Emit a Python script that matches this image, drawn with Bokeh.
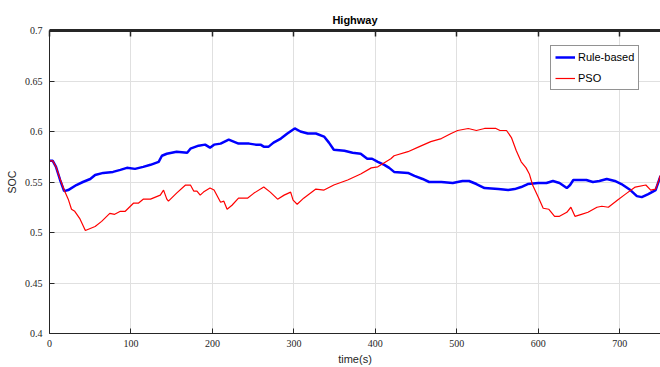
from bokeh.plotting import figure
from bokeh.models import (Range1d, FixedTicker, CustomJSTickFormatter, LinearAxis,
                          Legend, LegendItem)
from bokeh.embed import file_html
from bokeh.resources import INLINE

title_text = "Highway"
x_label = "time(s)"
y_label = "SOC"
x_ticks = [0, 100, 200, 300, 400, 500, 600, 700]
y_ticks = [0.4, 0.45, 0.5, 0.55, 0.6, 0.65, 0.7]

t_rule = [0, 4, 8, 13, 18, 23, 33, 41, 50, 56, 66, 78, 87, 95, 105, 115, 124, 134, 138, 144,
          156, 169, 173, 183, 191, 197, 202, 210, 220, 232, 245, 253, 259, 263, 269, 275, 284, 292, 301, 308,
          317, 327, 337, 343, 349, 362, 372, 382, 390, 396, 403, 411, 417, 423, 440, 448, 458, 466, 481, 495,
          507, 515, 524, 534, 551, 563, 571, 579, 587, 600, 610, 618, 626, 635, 639, 643, 651, 659, 667, 675,
          684, 694, 702, 713, 721, 727, 735, 744, 750]
soc_rule = [0.571, 0.571, 0.565, 0.552, 0.541, 0.542, 0.547, 0.550, 0.553, 0.557, 0.559, 0.560, 0.562, 0.564, 0.563, 0.565, 0.567, 0.570, 0.576, 0.578,
            0.580, 0.579, 0.583, 0.586, 0.587, 0.584, 0.587, 0.588, 0.592, 0.588, 0.588, 0.587, 0.587, 0.585, 0.585, 0.589, 0.593, 0.598, 0.603, 0.600,
            0.598, 0.598, 0.595, 0.589, 0.582, 0.581, 0.579, 0.578, 0.573, 0.573, 0.570, 0.567, 0.564, 0.560, 0.559, 0.556, 0.553, 0.550, 0.550, 0.549,
            0.551, 0.551, 0.548, 0.544, 0.543, 0.542, 0.543, 0.545, 0.548, 0.549, 0.549, 0.551, 0.549, 0.544, 0.547, 0.552, 0.552, 0.552, 0.550, 0.551,
            0.553, 0.551, 0.548, 0.542, 0.536, 0.535, 0.538, 0.542, 0.556]

t_pso = [0, 4, 8, 13, 18, 23, 27, 31, 37, 44, 50, 56, 64, 74, 80, 87, 93, 103, 109, 115,
         124, 136, 140, 144, 146, 156, 167, 173, 177, 181, 185, 189, 197, 202, 210, 214, 218, 224, 232, 243,
         251, 263, 271, 280, 288, 296, 299, 304, 312, 327, 337, 349, 366, 382, 395, 403, 419, 423, 440, 454,
         468, 481, 493, 501, 514, 524, 534, 548, 553, 561, 567, 573, 579, 585, 589, 593, 600, 606, 613, 620,
         626, 635, 640, 645, 653, 661, 672, 678, 686, 697, 707, 719, 732, 738, 744, 748, 750]
soc_pso = [0.571, 0.571, 0.565, 0.553, 0.542, 0.533, 0.523, 0.521, 0.514, 0.502, 0.504, 0.506, 0.511, 0.519, 0.518, 0.521, 0.521, 0.529, 0.529, 0.533,
           0.533, 0.537, 0.542, 0.533, 0.531, 0.539, 0.547, 0.547, 0.541, 0.541, 0.537, 0.540, 0.544, 0.542, 0.530, 0.531, 0.523, 0.527, 0.534, 0.534,
           0.539, 0.545, 0.540, 0.533, 0.537, 0.540, 0.532, 0.528, 0.534, 0.543, 0.542, 0.547, 0.552, 0.558, 0.564, 0.565, 0.573, 0.576, 0.580, 0.585,
           0.590, 0.593, 0.598, 0.601, 0.603, 0.601, 0.603, 0.603, 0.601, 0.601, 0.594, 0.581, 0.570, 0.564, 0.558, 0.547, 0.535, 0.524, 0.523, 0.516,
           0.516, 0.520, 0.525, 0.516, 0.518, 0.520, 0.525, 0.526, 0.525, 0.532, 0.538, 0.545, 0.547, 0.542, 0.543, 0.552, 0.557]

series_names = ["Rule-based", "PSO"]

TXT = "#262626"
NARROW = "Liberation Sans Narrow"
SANS = "Liberation Sans"

p = figure(width=660, height=367, x_range=Range1d(0, 750), y_range=Range1d(0.4, 0.7),
           output_backend="svg", toolbar_location=None,
           min_border_left=49, min_border_right=0, min_border_top=30, min_border_bottom=33)
p.outline_line_color = None

fmt = CustomJSTickFormatter(code="var s = tick.toFixed(2); if (s.endsWith('0')) s = s.slice(0, -1); return s;")

for ax in p.below:
    ax.ticker = FixedTicker(ticks=x_ticks)
    ax.axis_label = x_label
for ax in p.left:
    ax.ticker = FixedTicker(ticks=y_ticks)
    ax.formatter = fmt
    ax.axis_label = y_label

for ax in list(p.below) + list(p.left):
    ax.axis_line_color = TXT
    ax.axis_line_width = 1
    ax.major_tick_line_color = TXT
    ax.major_tick_in = 5
    ax.major_tick_out = 0
    ax.minor_tick_line_color = None
    ax.major_label_text_color = TXT
    ax.major_label_text_font = NARROW
    ax.major_label_text_font_size = "10px"
    ax.axis_label_text_font = SANS
    ax.axis_label_text_font_style = "normal"
    ax.axis_label_text_color = TXT

for ax in p.below:
    ax.major_label_standoff = 6
    ax.axis_label_standoff = 3
    ax.axis_label_text_font_size = "11px"
for ax in p.left:
    ax.major_label_standoff = 7
    ax.axis_label_standoff = 4
    ax.axis_label_text_font_size = "10.5px"

# top frame edge with inward ticks; its axis label carries the chart title
top = LinearAxis(ticker=FixedTicker(ticks=x_ticks),
                 formatter=CustomJSTickFormatter(code="return '';"),
                 major_label_standoff=0, axis_label=title_text,
                 axis_line_color=TXT, axis_line_width=3,
                 major_tick_line_color=TXT, major_tick_line_width=1.5,
                 major_tick_in=6, major_tick_out=0,
                 axis_label_text_font=SANS, axis_label_text_font_style="bold",
                 axis_label_text_color="black", axis_label_text_font_size="11px",
                 axis_label_standoff=5)
p.add_layout(top, "above")

for g in p.grid:
    g.grid_line_color = "#e0e0e0"
    g.grid_line_width = 1
p.xgrid.ticker = FixedTicker(ticks=x_ticks[1:])
p.ygrid.ticker = FixedTicker(ticks=y_ticks[1:-1])

r_rule = p.line(t_rule, soc_rule, line_color="#0000ff", line_width=2.5)
r_pso = p.line(t_pso, soc_pso, line_color="#ff0000", line_width=1.2)

legend = Legend(items=[LegendItem(label=series_names[0], renderers=[r_rule]),
                       LegendItem(label=series_names[1], renderers=[r_pso])],
                location=(501, 243), orientation="vertical",
                padding=4, spacing=7, margin=0,
                glyph_width=20, glyph_height=14, label_height=14, label_standoff=3,
                label_text_font=SANS, label_text_font_size="11px", label_text_color="black",
                border_line_color="#262626", border_line_width=1,
                background_fill_color="white", background_fill_alpha=1)
p.add_layout(legend, "center")

open("out.html", "w").write(file_html(p, INLINE))
